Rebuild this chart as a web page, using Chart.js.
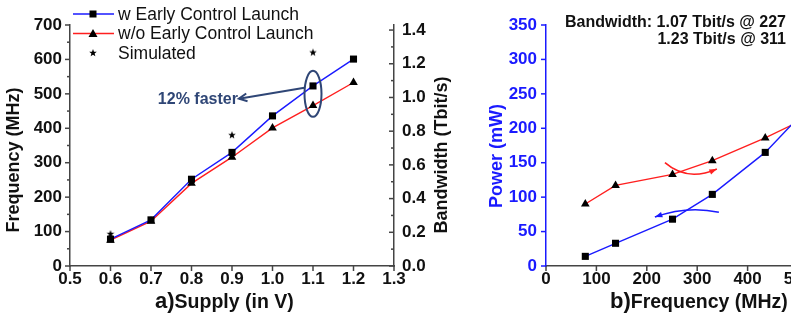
<!DOCTYPE html>
<html>
<head>
<meta charset="utf-8">
<script src="https://cdn.jsdelivr.net/npm/chart.js@4.4.1/dist/chart.umd.min.js"></script>
<style>
  html, body { margin: 0; padding: 0; background: #fff; }
  body { width: 791px; height: 320px; overflow: hidden; position: relative; }
  canvas { position: absolute; top: 0; }
  #left  { left: 0; }
  #right { left: 470px; }
</style>
</head>
<body>
<canvas id="left" width="470" height="320"></canvas>
<canvas id="right" width="360" height="320"></canvas>
<script>
/* ── data: a) supply sweep ── */
const supply         = [0.6, 0.7, 0.8, 0.9, 1.0, 1.1, 1.2];
const freqWithECL    = [78, 134, 252, 330, 436, 523, 601];
const freqWithoutECL = [75, 130, 240, 316, 401, 466, 533];
const simSupply      = [0.6, 0.9, 1.1];
const simFreq        = [93, 380, 620];
const supplyTicks    = [0.5, 0.6, 0.7, 0.8, 0.9, 1.0, 1.1, 1.2, 1.3];
const bwTicks        = [0, 0.2, 0.4, 0.6, 0.8, 1.0, 1.2, 1.4];

/* ── data: b) power vs frequency ── */
const freqPts        = [78, 138, 251, 330, 435, 500];
const powerWithECL   = [14, 33, 68, 104, 165, 215];
const powerWithout   = [90, 117, 133, 153, 186, 209];

const FONT = "'Liberation Sans', Arial, sans-serif";
const BLUE = '#1a1aff';
const RED  = '#ff1f1f';
const AXIS = '#444';
const NAVY = '#2f4676';

const pts = (xs, ys) => xs.map((x, i) => ({ x, y: ys[i] }));

/* filled 5-point star used as point style */
function starImg(r) {
  const c = document.createElement('canvas');
  c.width = c.height = r * 2 + 2;
  const g = c.getContext('2d');
  g.fillStyle = '#000';
  g.beginPath();
  for (let i = 0; i < 10; i++) {
    const rr = i % 2 ? r * 0.42 : r;
    const a = -Math.PI / 2 + i * Math.PI / 5;
    g.lineTo(r + 1 + rr * Math.cos(a), r + 1 + rr * Math.sin(a));
  }
  g.closePath();
  g.fill();
  return c;
}
const star = starImg(4);

/* ── tick marks (major + minor, in/out) ── */
const tickMarks = {
  id: 'tickMarks',
  afterDraw(chart, args, opts) {
    const { ctx } = chart;
    (opts.axes || []).forEach(a => {
      const s = chart.scales[a.id];
      const vals = s.ticks.map(t => t.value);
      const marks = vals.map(v => [v, a.len]);
      if (a.minor) {
        for (let i = 0; i < vals.length - 1; i++) marks.push([(vals[i] + vals[i + 1]) / 2, a.len * 0.6]);
      }
      ctx.save();
      ctx.strokeStyle = a.color;
      ctx.lineWidth = 1.5;
      marks.forEach(([v, len]) => {
        const p = s.getPixelForValue(v);
        ctx.beginPath();
        if (s.isHorizontal()) {
          ctx.moveTo(p, s.top); ctx.lineTo(p, s.top + len * a.dir);
        } else {
          const x0 = s.position === 'left' ? s.right : s.left;
          ctx.moveTo(x0, p); ctx.lineTo(x0 + len * a.dir, p);
        }
        ctx.stroke();
      });
      ctx.restore();
    });
  }
};

/* ── helpers for drawing text / arrows ── */
function vText(ctx, txt, x, y, font, color) {
  ctx.save();
  ctx.translate(x, y);
  ctx.rotate(-Math.PI / 2);
  ctx.font = font;
  ctx.fillStyle = color;
  ctx.textAlign = 'center';
  ctx.textBaseline = 'middle';
  ctx.fillText(txt, 0, 0);
  ctx.restore();
}

function arrowHead(ctx, tipX, tipY, fromX, fromY, len, spread, fill) {
  const a = Math.atan2(tipY - fromY, tipX - fromX);
  ctx.beginPath();
  ctx.moveTo(tipX - len * Math.cos(a - spread), tipY - len * Math.sin(a - spread));
  ctx.lineTo(tipX, tipY);
  ctx.lineTo(tipX - len * Math.cos(a + spread), tipY - len * Math.sin(a + spread));
  if (fill) { ctx.closePath(); ctx.fill(); } else ctx.stroke();
}

/* ── a) overlay: legend, titles, "12% faster" callout ── */
const leftDecor = {
  id: 'leftDecor',
  afterDraw(chart) {
    const { ctx, scales: { x, y } } = chart;
    ctx.save();

    // legend
    const rows = [
      { label: 'w Early Control Launch',   color: BLUE, mark: 'rect' },
      { label: 'w/o Early Control Launch', color: RED,  mark: 'triangle' },
      { label: 'Simulated',                color: null, mark: 'star' }
    ];
    rows.forEach((r, i) => {
      const yy = 14 + i * 19.5;
      if (r.color) {
        ctx.strokeStyle = r.color; ctx.lineWidth = 1.5;
        ctx.beginPath(); ctx.moveTo(73, yy); ctx.lineTo(114, yy); ctx.stroke();
      }
      ctx.fillStyle = '#000';
      if (r.mark === 'rect') ctx.fillRect(89.5, yy - 3.5, 7, 7);
      if (r.mark === 'triangle') {
        ctx.beginPath(); ctx.moveTo(93, yy - 4.5); ctx.lineTo(97.5, yy + 3.5); ctx.lineTo(88.5, yy + 3.5);
        ctx.closePath(); ctx.fill();
      }
      if (r.mark === 'star') ctx.drawImage(star, 93 - star.width / 2, yy - star.height / 2);
      ctx.font = '17.5px ' + FONT;
      ctx.fillStyle = '#111';
      ctx.textAlign = 'left';
      ctx.textBaseline = 'middle';
      ctx.fillText(r.label, 118, yy + 1);
    });

    // callout around the 1.1 V pair
    const cx = x.getPixelForValue(1.1), cy = y.getPixelForValue(500);
    ctx.strokeStyle = NAVY; ctx.lineWidth = 2;
    ctx.beginPath(); ctx.ellipse(cx, cy, 8.5, 23, 0, 0, Math.PI * 2); ctx.stroke();
    const sx = x.getPixelForValue(1.079), sy = y.getPixelForValue(518);
    const tx = x.getPixelForValue(0.917), ty = y.getPixelForValue(486);
    ctx.beginPath(); ctx.moveTo(sx, sy); ctx.lineTo(tx, ty); ctx.stroke();
    arrowHead(ctx, tx, ty, sx, sy, 9, 0.45, false);
    ctx.font = 'bold 16px ' + FONT;
    ctx.fillStyle = NAVY;
    ctx.textAlign = 'right';
    ctx.textBaseline = 'middle';
    ctx.fillText('12% faster', tx - 1, ty + 1);

    // axis titles
    vText(ctx, 'Frequency (MHz)', 14, 160, 'bold 18px ' + FONT, '#111');
    vText(ctx, 'Bandwidth (Tbit/s)', 442, 155, 'bold 18px ' + FONT, '#111');
    ctx.fillStyle = '#111';
    ctx.textAlign = 'left';
    ctx.textBaseline = 'alphabetic';
    ctx.font = 'bold 22px ' + FONT;
    ctx.fillText('a)', 155, 308);
    const w = ctx.measureText('a)').width;
    ctx.font = 'bold 19.5px ' + FONT;
    ctx.fillText('Supply (in V)', 155 + w, 308);
    ctx.restore();
  }
};

/* ── b) overlay: titles, bandwidth note, curved arrows ── */
const rightDecor = {
  id: 'rightDecor',
  afterDraw(chart) {
    const { ctx, scales: { x, y } } = chart;
    ctx.save();
    const P = (f, p) => [x.getPixelForValue(f), y.getPixelForValue(p)];

    const curve = (a, c, b, color, fill) => {
      ctx.strokeStyle = color; ctx.fillStyle = color; ctx.lineWidth = 1.6;
      ctx.beginPath(); ctx.moveTo(a[0], a[1]); ctx.quadraticCurveTo(c[0], c[1], b[0], b[1]); ctx.stroke();
      arrowHead(ctx, b[0], b[1], c[0], c[1], 8, 0.35, fill);
    };
    curve(P(236, 150), P(280, 122), P(339, 141), RED, true);
    curve(P(343, 78), P(280, 88), P(216, 71), BLUE, true);

    vText(ctx, 'Power (mW)', 27, 156, 'bold 18px ' + FONT, BLUE);

    ctx.fillStyle = '#111';
    ctx.font = 'bold 16px ' + FONT;
    ctx.textAlign = 'right';
    ctx.textBaseline = 'alphabetic';
    ctx.fillText('Bandwidth: 1.07 Tbit/s @ 227', 316, 27);
    ctx.fillText('1.23 Tbit/s @ 311', 316, 44);

    ctx.textAlign = 'left';
    ctx.font = 'bold 22px ' + FONT;
    ctx.fillText('b)', 140, 308);
    const w = ctx.measureText('b)').width;
    ctx.font = 'bold 19.5px ' + FONT;
    ctx.fillText('Frequency (MHz)', 140 + w, 308);
    ctx.restore();
  }
};

const tickFont = { family: FONT, size: 17, weight: 'bold' };
const noGrid = { display: false, drawTicks: false };

/* ── a) Frequency vs supply ── */
new Chart(document.getElementById('left'), {
  type: 'scatter',
  data: {
    datasets: [
      {
        label: 'w Early Control Launch',
        data: pts(supply, freqWithECL),
        showLine: true, borderColor: BLUE, borderWidth: 1.4,
        pointStyle: 'rect', pointRadius: 5, pointBackgroundColor: '#000', pointBorderWidth: 0
      },
      {
        label: 'w/o Early Control Launch',
        data: pts(supply, freqWithoutECL),
        showLine: true, borderColor: RED, borderWidth: 1.4,
        pointStyle: 'triangle', pointRadius: 5, pointBackgroundColor: '#000', pointBorderWidth: 0
      },
      {
        label: 'Simulated',
        data: pts(simSupply, simFreq),
        showLine: false, pointStyle: star, pointRadius: 5
      }
    ]
  },
  options: {
    responsive: false, animation: false,
    layout: { padding: { top: 25, left: 0, right: 0, bottom: 0 } },
    plugins: {
      legend: { display: false }, tooltip: { enabled: false },
      tickMarks: { axes: [
        { id: 'x',  dir: 1,  len: 5, minor: false, color: AXIS },
        { id: 'y',  dir: -1, len: 5, minor: true,  color: AXIS },
        { id: 'y1', dir: -1, len: 5, minor: true,  color: AXIS }
      ] }
    },
    scales: {
      x: {
        type: 'linear', min: 0.5, max: 1.3,
        afterBuildTicks: s => { s.ticks = supplyTicks.map(v => ({ value: v })); },
        ticks: { font: tickFont, color: '#111', padding: 3, callback: v => v.toFixed(1), maxRotation: 0 },
        grid: noGrid, border: { display: true, color: AXIS, width: 1.5 },
        afterFit: s => { s.height = 54; }
      },
      y: {
        position: 'left', min: 0, max: 700,
        ticks: { stepSize: 100, font: tickFont, color: '#111', padding: 8 },
        grid: noGrid, border: { display: true, color: AXIS, width: 1.5 },
        afterFit: s => { s.width = 70; }
      },
      y1: {
        position: 'right', min: 0, max: 1.43,
        afterBuildTicks: s => { s.ticks = bwTicks.map(v => ({ value: v })); },
        ticks: { font: tickFont, color: '#111', padding: 8, callback: v => v.toFixed(1) },
        grid: noGrid, border: { display: true, color: AXIS, width: 1.5 },
        afterFit: s => { s.width = 76; }
      }
    }
  },
  plugins: [tickMarks, leftDecor]
});

/* ── b) Power vs frequency ── */
new Chart(document.getElementById('right'), {
  type: 'scatter',
  data: {
    datasets: [
      {
        label: 'w Early Control Launch',
        data: pts(freqPts, powerWithECL),
        showLine: true, borderColor: BLUE, borderWidth: 1.4,
        pointStyle: 'rect', pointRadius: 5, pointBackgroundColor: '#000', pointBorderWidth: 0
      },
      {
        label: 'w/o Early Control Launch',
        data: pts(freqPts, powerWithout),
        showLine: true, borderColor: RED, borderWidth: 1.4,
        pointStyle: 'triangle', pointRadius: 5, pointBackgroundColor: '#000', pointBorderWidth: 0
      }
    ]
  },
  options: {
    responsive: false, animation: false,
    layout: { padding: { top: 25, left: 0, right: 32, bottom: 0 } },
    plugins: {
      legend: { display: false }, tooltip: { enabled: false },
      tickMarks: { axes: [
        { id: 'x', dir: 1,  len: 5, minor: false, color: AXIS },
        { id: 'y', dir: -1, len: 5, minor: false, color: BLUE }
      ] }
    },
    scales: {
      x: {
        type: 'linear', min: 0, max: 500,
        ticks: { stepSize: 100, font: tickFont, color: '#111', padding: 3, maxRotation: 0 },
        grid: noGrid, border: { display: true, color: AXIS, width: 1.5 },
        afterFit: s => { s.height = 54; }
      },
      y: {
        position: 'left', min: 0, max: 350,
        ticks: { stepSize: 50, font: tickFont, color: BLUE, padding: 9 },
        grid: noGrid, border: { display: true, color: BLUE, width: 1.5 },
        afterFit: s => { s.width = 76; }
      }
    }
  },
  plugins: [tickMarks, rightDecor]
});
</script>
</body>
</html>
